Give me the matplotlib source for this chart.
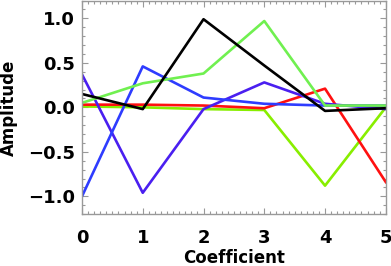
import numpy as np
import matplotlib
matplotlib.use("Agg")
from matplotlib import pyplot as plt
from matplotlib.ticker import MultipleLocator

# coefficient index and amplitudes for each curve
coef = [0, 1, 2, 3, 4, 5]
black = [0.15, -0.02, 0.99, 0.47, -0.04, -0.01]
lgreen = [0.05, 0.27, 0.38, 0.97, 0.02, 0.02]
blue = [-1.00, 0.46, 0.11, 0.04, 0.02, 0.02]
violet = [0.37, -0.96, -0.02, 0.28, 0.04, -0.02]
red = [0.03, 0.03, 0.02, -0.01, 0.21, -0.84]
ygreen = [0.01, 0.00, -0.02, -0.03, -0.88, 0.00]

plt.rcParams['font.family'] = ['DejaVu Sans']
plt.rcParams['font.weight'] = 'bold'

fig = plt.figure(figsize=(3.91, 2.66), dpi=100)
ax = fig.add_axes([0.2097, 0.195, 0.777, 0.803])

lw = 1.9
ax.plot(coef, ygreen, color="#88ee00", lw=lw)
ax.plot(coef, red, color="#ff1010", lw=lw)
ax.plot(coef, violet, color="#4a1ff0", lw=lw)
ax.plot(coef, blue, color="#2e3cff", lw=lw)
ax.plot(coef, lgreen, color="#70f050", lw=lw)
ax.plot(coef, black, color="black", lw=lw)

ax.set_xlim(0, 5)
ax.set_ylim(-1.2, 1.2)
ax.xaxis.set_major_locator(MultipleLocator(1))
ax.xaxis.set_minor_locator(MultipleLocator(0.1))
ax.yaxis.set_major_locator(MultipleLocator(0.5))
ax.yaxis.set_minor_locator(MultipleLocator(0.1))
ax.set_yticks([-1.0, -0.5, 0.0, 0.5, 1.0])
ax.set_yticklabels(["\u22121.0", "\u22120.5", "0.0", "0.5", "1.0"])

for s in ax.spines.values():
    s.set_color("#999999")
    s.set_linewidth(1.0)
ax.tick_params(which="both", direction="in", top=True, right=True,
               color="#999999", labelsize=13, width=0.8)
ax.tick_params(which="major", length=4)
ax.tick_params(which="minor", length=2.5)
ax.tick_params(axis="x", which="major", pad=11)
ax.tick_params(axis="y", which="major", pad=5)

ax.set_xlabel("Coefficient", fontsize=12, fontweight="bold", labelpad=1.5)
ax.set_ylabel("Amplitude", fontsize=12, fontweight="bold", labelpad=7)

fig.savefig("out.png", dpi=100)
